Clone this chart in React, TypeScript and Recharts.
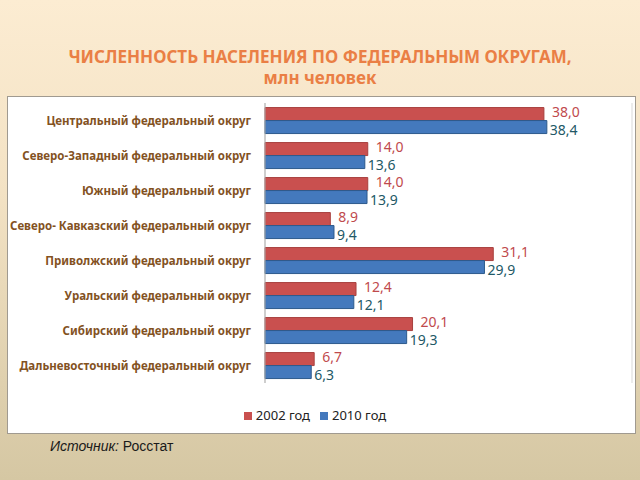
import { BarChart, Bar, XAxis, YAxis, CartesianGrid, Legend, LabelList } from 'recharts'

const districts = [
  'Центральный федеральный округ',
  'Северо-Западный федеральный округ',
  'Южный федеральный округ',
  'Северо- Кавказский федеральный округ',
  'Приволжский федеральный округ',
  'Уральский федеральный округ',
  'Сибирский федеральный округ',
  'Дальневосточный федеральный округ',
]
const pop2002 = [38.0, 14.0, 14.0, 8.9, 31.1, 12.4, 20.1, 6.7]
const pop2010 = [38.4, 13.6, 13.9, 9.4, 29.9, 12.1, 19.3, 6.3]
const xTicks = [0, 10, 20, 30, 40, 50]

const data = districts.map((name, i) => ({ name, y2002: pop2002[i], y2010: pop2010[i] }))

const fmt = (v: number) => v.toFixed(1).replace('.', ',')
const font = '"Noto Sans", sans-serif'

function DistrictTick(props: any) {
  const { x, y, payload } = props
  return (
    <text
      x={x}
      y={y}
      dy={4}
      textAnchor="end"
      fill="#83521f"
      fontSize={11.5}
      fontWeight={700}
      fontFamily={font}
    >
      {payload.value}
    </text>
  )
}

function valueLabel(color: string, offset: number, dy: number) {
  return (props: any) => {
    const { x, y, width, height, value } = props
    return (
      <text
        x={x + width + offset}
        y={y + height / 2 + dy}
        dy={5}
        fill={color}
        fontSize={14}
        fontFamily={font}
      >
        {fmt(value)}
      </text>
    )
  }
}

export default function App() {
  return (
    <div
      style={{
        position: 'absolute',
        left: 0,
        top: 0,
        width: 640,
        height: 480,
        background: 'linear-gradient(to bottom, #fcecd2 0%, #f3e2c4 40%, #d5c7a3 100%)',
        fontFamily: font,
        overflow: 'hidden',
      }}
    >
      <div
        style={{
          position: 'absolute',
          top: 46,
          left: 0,
          width: 640,
          textAlign: 'center',
          color: '#ea7f45',
          fontWeight: 700,
          fontSize: 17,
          lineHeight: '21px',
        }}
      >
        ЧИСЛЕННОСТЬ НАСЕЛЕНИЯ ПО ФЕДЕРАЛЬНЫМ ОКРУГАМ,
        <br />
        млн человек
      </div>
      <div
        style={{
          position: 'absolute',
          left: 7,
          top: 96,
          width: 627,
          height: 336,
          background: '#ffffff',
          border: '1.5px solid #a09a90',
        }}
      >
        <BarChart
          width={627}
          height={336}
          data={data}
          layout="vertical"
          margin={{ top: 6, right: 3, left: 0, bottom: 8 }}
          barCategoryGap="13%"
          barGap={0}
        >
          <CartesianGrid horizontal={false} stroke="#d9d9d9" />
          <XAxis
            type="number"
            domain={[0, 50]}
            ticks={xTicks}
            tick={false}
            axisLine={false}
            tickLine={false}
            height={20}
          />
          <YAxis
            type="category"
            dataKey="name"
            width={257}
            tickLine={false}
            axisLine={{ stroke: '#b0b0b0' }}
            tick={<DistrictTick />}
            tickMargin={8}
          />
          <Legend
            verticalAlign="bottom"
            iconType="square"
            iconSize={8}
            formatter={(v) => <span style={{ color: '#222', fontSize: 13 }}>{v}</span>}
          />
          <Bar dataKey="y2002" name="2002 год" fill="#c9504f" stroke="#a8403e" isAnimationActive={false}>
            <LabelList dataKey="y2002" content={valueLabel('#bf4a4d', 8, -2)} />
          </Bar>
          <Bar dataKey="y2010" name="2010 год" fill="#4479bd" stroke="#2d5a8c" isAnimationActive={false}>
            <LabelList dataKey="y2010" content={valueLabel('#225866', 3, 3)} />
          </Bar>
        </BarChart>
      </div>
      <div
        style={{
          position: 'absolute',
          left: 50,
          top: 438,
          fontFamily: '"Liberation Sans", Arial, sans-serif',
          fontSize: 14,
          color: '#1a1a1a',
        }}
      >
        <i>Источник:</i> Росстат
      </div>
    </div>
  )
}
